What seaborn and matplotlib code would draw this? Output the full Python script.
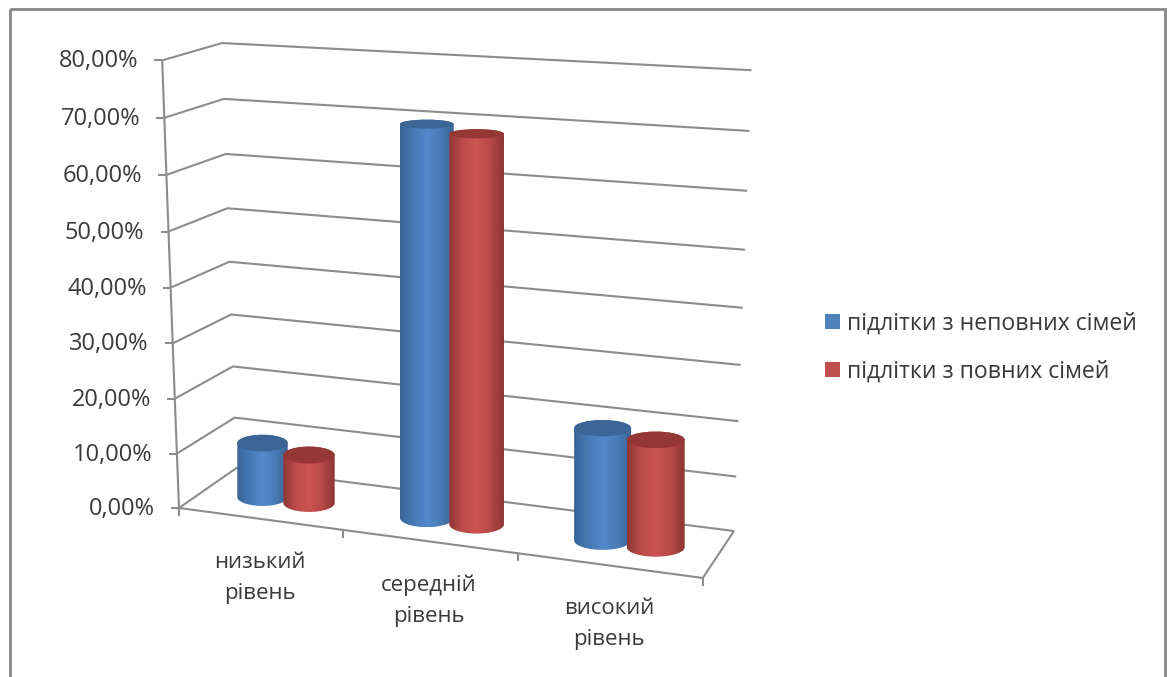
import numpy as np
import pandas as pd
import matplotlib
matplotlib.use("Agg")
import matplotlib.pyplot as plt
import seaborn as sns
from matplotlib.patches import Ellipse, Patch, PathPatch, Rectangle
from matplotlib.path import Path
from matplotlib.transforms import Transform
from matplotlib.colors import LinearSegmentedColormap

# ---- data -----------------------------------------------------------------
categories = ["низький\nрівень", "середній\nрівень", "високий\nрівень"]
series_names = ["підлітки з неповних сімей", "підлітки з повних сімей"]
incomplete_families = [9.8, 71.6, 20.4]
complete_families = [8.7, 71.0, 19.5]
axis_ticks = [0, 10, 20, 30, 40, 50, 60, 70, 80]

# ---- styles ----------------------------------------------------------------
FONT = "Open Sans"
TEXT = "#3a3a3a"
GRID = "#8c8c8c"
FRAME = "#868686"
BASE_COLORS = ["#4f81bd", "#c0504d"]
CAP_COLORS = ["#3c6494", "#953735"]
GRADIENTS = [["#3a6597", "#467ab6", "#5288cc", "#4a7cb8", "#3a6496"],
             ["#8f3836", "#bc4c4a", "#cc5452", "#b84a48", "#8c3634"]]

sns.set_theme(style="white")
plt.rcParams["font.family"] = [FONT, "DejaVu Sans"]

W, H = 1174, 677
fig = plt.figure(figsize=(W / 100, H / 100), dpi=100, facecolor="white")

# the seaborn bars live in their own axes; the picture plane is in pixels
bars_ax = fig.add_axes([0, 0, 1, 1], zorder=0)
pix = fig.add_axes([0, 0, 1, 1], zorder=1, facecolor="none")
pix.set_xlim(0, W)
pix.set_ylim(H, 0)
pix.axis("off")


# ---- projection helpers -----------------------------------------------------
def front_left(v):
    return 179 - 0.21 * v, 508 - 5.42 * v - 0.0022 * v ** 2


def back_left(v):
    return 236.5 - 0.18 * v, 468 - 5.0 * v - 0.0039 * v ** 2


def back_right(v):
    return 734 + 0.22 * v, 531 - 5.4 * v - 0.0045 * v ** 2


def front_floor(t):
    x = 179 + 158.7 * t + 5.3 * t ** 2
    return x, 508 + (578 - 508) / (703 - 179) * (x - 179)


class BarPlane(Transform):
    """(category position, value) -> pixel, on the plane the cylinders stand on."""
    input_dims = 2
    output_dims = 2

    def transform_non_affine(self, values):
        values = np.asarray(values, dtype=float)
        u, v = values[:, 0], values[:, 1]
        x = 285.5 + 160.3 * u + 5.7 * u ** 2
        y = 497 + 0.1275 * (x - 262.5) - 5.5 * v
        return np.column_stack([x, y])


plane = BarPlane()

# ---- frame, walls and floor -------------------------------------------------
pix.add_patch(Rectangle((9.5, 9), 1165 - 9.5, H + 20, fill=False, ec=FRAME, lw=2.0,
                        clip_on=False, zorder=1))

line_style = dict(color=GRID, lw=1.5, zorder=1, solid_capstyle="butt")
for v in axis_ticks:
    p0, p1, p2 = front_left(v), back_left(v), back_right(v)
    pix.plot([p0[0], p1[0], p2[0]], [p0[1], p1[1], p2[1]], **line_style)
    pix.plot([p0[0] - 8, p0[0]], [p0[1], p0[1]], **line_style)
    pix.text(p0[0] - 24, p0[1] + 1, f"{v:.2f}".replace(".", ",") + "%", ha="right",
             va="center", fontsize=17, color=TEXT, zorder=2)

# vertical front edge
edge = [front_left(v) for v in axis_ticks]
pix.plot([e[0] for e in edge], [e[1] for e in edge], **line_style)

# floor outline
f0, f3 = front_floor(0), front_floor(len(categories))
br = back_right(0)
pix.plot([f0[0], f3[0], br[0]], [f0[1], f3[1], br[1]], **line_style)

# category ticks and labels
for t in range(len(categories) + 1):
    x, y = front_floor(t)
    pix.plot([x, x], [y, y + 8], **line_style)
for t, label in enumerate(categories):
    x, y = front_floor(t + 0.5)
    pix.text(x, y + 59, label, ha="center", va="center", fontsize=16, color=TEXT,
             linespacing=1.62, zorder=2)

# ---- bars -------------------------------------------------------------------
df = pd.DataFrame({
    "category": categories * 2,
    "series": [series_names[0]] * 3 + [series_names[1]] * 3,
    "value": incomplete_families + complete_families,
})
sns.barplot(data=df, x="category", y="value", hue="series", order=categories,
            hue_order=series_names, palette=BASE_COLORS, width=0.58, gap=0,
            saturation=1, legend=False, errorbar=None, ax=bars_ax)
bars_ax.axis("off")


def semi_minor(y):
    return 3 + 0.012 * y


PAD = 2.2
rects = list(bars_ax.patches)
for i, rect in enumerate(rects):
    s = i // len(categories)
    c = i % len(categories)
    u0, w, h = rect.get_x(), rect.get_width(), rect.get_height()
    (xl, _), (xr, _), (_, y_top), (_, y_base) = plane.transform_non_affine(
        np.array([[u0, 0.0], [u0 + w, 0.0], [u0 + w / 2, h], [u0 + w / 2, 0.0]]))
    xl, xr = xl - PAD, xr + PAD
    xc, a = (xl + xr) / 2, (xr - xl) / 2
    b_top, b_base = semi_minor(y_top), semi_minor(y_base)

    th = np.linspace(np.pi, 0, 60)
    arc = np.column_stack([xc + a * np.cos(th), y_base + b_base * np.sin(th)])
    th_top = np.linspace(0, np.pi, 60)
    top_arc = np.column_stack([xc + a * np.cos(th_top), y_top - b_top * np.sin(th_top)])
    verts = np.vstack([top_arc, arc, top_arc[:1]])
    body = Path(verts, closed=True)

    z = 3 + 2 * s + 4 * c
    # the seaborn bar itself is reprojected onto the chart plane
    rect.set_transform(plane + pix.transData)
    rect.set_clip_path(body, pix.transData)
    rect.set_edgecolor("none")

    cmap = LinearSegmentedColormap.from_list(f"cyl{s}", GRADIENTS[s])
    im = pix.imshow(np.linspace(0, 1, 200)[None, :], cmap=cmap, aspect="auto",
                    extent=(xl, xr, y_base + b_base, y_top - b_top),
                    interpolation="bilinear", zorder=z)
    im.set_clip_path(PathPatch(body, transform=pix.transData))
    pix.add_patch(Ellipse((xc, y_top), 2 * a, 2 * b_top, fc=CAP_COLORS[s], ec="none",
                          zorder=z + 1))

pix.set_xlim(0, W)
pix.set_ylim(H, 0)
bars_ax.set_xlim(-0.5, 2.5)

# ---- legend -----------------------------------------------------------------
handles = [Patch(fc=col, ec="none", label=name) for col, name in zip(BASE_COLORS, series_names)]
pix.legend(handles=handles, loc="center left", bbox_to_anchor=(825 / W, 1 - 347.5 / H),
           bbox_transform=fig.transFigure, frameon=False, fontsize=16.6, labelcolor=TEXT,
           handlelength=0.65, handleheight=0.65, handletextpad=0.3, labelspacing=1.05,
           borderpad=0, borderaxespad=0)

fig.savefig("out.png", dpi=100, facecolor="white")
